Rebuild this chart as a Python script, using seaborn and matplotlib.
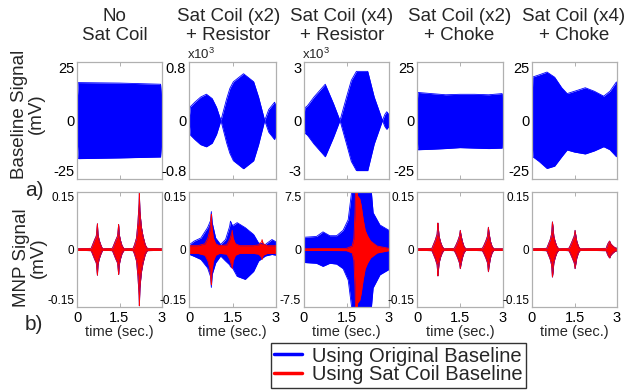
import numpy as np
import pandas as pd
import matplotlib
matplotlib.use("Agg")
import matplotlib.pyplot as plt
import seaborn as sns
from matplotlib.lines import Line2D

# ---------------- data (envelopes) ----------------
titles = ["No\nSat Coil", "Sat Coil (x2)\n+ Resistor", "Sat Coil (x4)\n+ Resistor",
          "Sat Coil (x2)\n+ Choke", "Sat Coil (x4)\n+ Choke"]
legend_labels = ["Using Original Baseline", "Using Sat Coil Baseline"]

# top row: baseline signal envelopes (upper / lower)
top1_t = [0.0, 0.05, 1.5, 2.95, 3.0]
top1_up = [8, 16.2, 16.0, 15.5, 8]
top1_lo = [-8, -16.3, -16.0, -15.6, -8]

top2_t = [0.0, 0.05, 0.2, 0.4, 0.6, 0.8, 0.95, 1.1, 1.3, 1.41, 1.53, 1.88, 2.23, 2.4, 2.61, 2.75, 2.95, 3.0]
top2_up = [0.02, 0.19, 0.25, 0.32, 0.36, 0.30, 0.18, 0.0, 0.30, 0.44, 0.53, 0.64, 0.53, 0.32, 0.0, 0.15, 0.25, 0.2]
top2_lo = [-0.02, -0.2, -0.26, -0.33, -0.36, -0.31, -0.19, 0.0, -0.31, -0.45, -0.55, -0.66, -0.55, -0.33, 0.0, -0.16, -0.26, -0.2]

top3_t = [0.0, 0.03, 0.12, 0.35, 0.75, 1.04, 1.27, 1.5, 1.67, 1.85, 2.25, 2.48, 2.77, 2.85, 2.92, 3.0]
top3_up = [0.2, 0.65, 0.75, 1.2, 1.86, 0.87, 0.0, 1.2, 2.06, 2.52, 2.52, 1.2, 0.0, 0.3, 0.45, 0.3]
top3_lo = [-0.2, -0.65, -0.75, -1.2, -1.86, -0.87, 0.0, -1.2, -2.1, -2.57, -2.57, -1.2, 0.0, -0.3, -0.45, -0.3]

top4_t = [0.0, 0.03, 0.5, 1.0, 1.5, 2.0, 2.5, 2.97, 3.0]
top4_up = [6, 12.0, 11.5, 11.0, 11.2, 11.2, 11.0, 11.5, 6]
top4_lo = [-6, -12.5, -12.3, -12.0, -11.6, -11.8, -12.0, -11.8, -6]

top5_t = [0.0, 0.03, 0.25, 0.53, 0.8, 1.05, 1.24, 1.5, 1.88, 2.2, 2.53, 2.75, 2.98, 3.0]
top5_up = [8, 18.6, 19.5, 20.7, 18.5, 14, 11.5, 12.5, 14, 12.5, 10.4, 12.5, 16.5, 8]
top5_lo = [-8, -15.5, -17.5, -20.5, -19.5, -15.5, -12.6, -13.5, -14.3, -13, -11.2, -12.5, -15.5, -8]

# bottom row: MNP signal, red = sat coil baseline (symmetric amplitude)
bot1_t = [0.0, 0.5, 0.55, 0.62, 0.68, 0.71, 0.72, 0.74, 0.78, 0.84, 0.9,
          1.25, 1.3, 1.37, 1.43, 1.46, 1.47, 1.49, 1.53, 1.59, 1.66,
          1.98, 2.03, 2.1, 2.15, 2.19, 2.2, 2.22, 2.27, 2.33, 2.41, 2.48, 3.0]
bot1_amp = [0.002, 0.003, 0.012, 0.025, 0.035, 0.06, 0.067, 0.04, 0.025, 0.012, 0.002,
            0.003, 0.012, 0.025, 0.035, 0.058, 0.065, 0.04, 0.025, 0.01, 0.002,
            0.003, 0.012, 0.03, 0.07, 0.12, 0.147, 0.1, 0.06, 0.035, 0.012, 0.003, 0.002]

bot2_red_t = [0.0, 0.3, 0.55, 0.65, 0.72, 0.76, 0.77, 0.79, 0.84, 0.92, 1.05, 1.3, 1.4, 1.47,
              1.49, 1.52, 1.6, 1.75, 2.2, 2.4, 2.5, 2.52, 2.56, 2.7, 3.0]
bot2_red_amp = [0.01, 0.01, 0.015, 0.03, 0.05, 0.085, 0.092, 0.06, 0.03, 0.015, 0.01, 0.012, 0.025,
                0.042, 0.05, 0.03, 0.015, 0.01, 0.01, 0.012, 0.02, 0.026, 0.015, 0.01, 0.01]
bot2_blue_t = [0.0, 0.02, 0.18, 0.41, 0.64, 0.74, 0.77, 0.8, 0.92, 1.09, 1.26, 1.40, 1.43, 1.5,
               1.66, 1.94, 2.23, 2.4, 2.63, 2.86, 3.0]
bot2_blue_up = [0.005, 0.013, 0.022, 0.03, 0.057, 0.075, 0.099, 0.07, 0.03, 0.013, 0.026, 0.06,
                0.074, 0.062, 0.07, 0.057, 0.039, 0.017, 0.013, 0.026, 0.02]
bot2_blue_lo = [-0.005, -0.013, -0.018, -0.026, -0.048, -0.07, -0.099, -0.065, -0.035, -0.017,
                -0.03, -0.04, -0.045, -0.048, -0.07, -0.078, -0.057, -0.03, -0.017, -0.013, -0.015]

bot3_blue_t = [0.0, 0.02, 0.44, 0.67, 0.91, 1.15, 1.38, 1.56, 1.68, 1.75, 2.32, 2.44, 2.68, 3.0]
bot3_blue_up = [0.5, 1.6, 1.7, 2.3, 1.8, 1.8, 2.5, 3.9, 7.5, 10, 10, 4.8, 3.2, 2.5]
bot3_blue_lo = [-0.5, -1.7, -1.8, -2.2, -1.8, -1.9, -2.5, -4.0, -7.5, -10, -10, -5.0, -3.3, -2.6]
bot3_red_t = [0.0, 1.5, 1.70, 1.76, 1.80, 1.83, 1.86, 1.89, 1.97, 2.02, 2.09, 2.16, 2.24, 2.35, 2.58, 3.0]
bot3_red_amp = [0.1, 0.15, 0.45, 1.4, 4.8, 10, 10, 7.0, 6.6, 5.7, 3.9, 2.5, 1.8, 1.1, 0.45, 0.15]

bot4_t = [0.0, 0.52, 0.57, 0.64, 0.70, 0.73, 0.74, 0.77, 0.82, 0.88, 0.94,
          1.30, 1.35, 1.42, 1.48, 1.51, 1.53, 1.58, 1.64, 1.70,
          2.28, 2.33, 2.40, 2.46, 2.49, 2.51, 2.56, 2.62, 2.68, 3.0]
bot4_amp = [0.002, 0.003, 0.012, 0.025, 0.04, 0.069, 0.06, 0.035, 0.02, 0.008, 0.002,
            0.003, 0.01, 0.022, 0.035, 0.05, 0.04, 0.022, 0.008, 0.002,
            0.003, 0.01, 0.022, 0.035, 0.058, 0.045, 0.022, 0.008, 0.002, 0.002]

bot5_t = [0.0, 0.52, 0.57, 0.64, 0.69, 0.72, 0.74, 0.77, 0.82, 0.88, 0.94,
          1.30, 1.35, 1.42, 1.49, 1.52, 1.54, 1.58, 1.64, 1.70,
          2.62, 2.66, 2.70, 2.74, 2.78, 2.84, 2.92, 3.0]
bot5_amp = [0.002, 0.003, 0.012, 0.025, 0.04, 0.072, 0.06, 0.035, 0.02, 0.008, 0.002,
            0.003, 0.01, 0.022, 0.035, 0.050, 0.04, 0.022, 0.008, 0.002,
            0.003, 0.012, 0.018, 0.022, 0.015, 0.01, 0.005, 0.003]

top_ylims = [25, 0.8, 3, 25, 25]
top_yticklabels = [["-25", "0", "25"], ["-0.8", "0", "0.8"], ["-3", "0", "3"],
                   ["-25", "0", "25"], ["-25", "0", "25"]]
bot_ylims = [0.15, 0.15, 7.5, 0.15, 0.15]
bot_yticklabels = [["-0.15", "0", "0.15"], ["-0.15", "0", "0.15"], ["-7.5", "0", "7.5"],
                   ["-0.15", "0", "0.15"], ["-0.15", "0", "0.15"]]
xticks = [0, 1.5, 3]
xticklabels = ["0", "1.5", "3"]

# ---------------- style ----------------
sns.set_theme(style="white")
plt.rcParams['font.family'] = ['Liberation Sans', 'DejaVu Sans']
plt.rcParams['mathtext.fontset'] = 'custom'
plt.rcParams['mathtext.rm'] = 'Liberation Sans'
plt.rcParams['mathtext.it'] = 'Liberation Sans'

BLUE = "#0000ff"
RED = "#ff0000"
SPINE = "#b0b0b0"

W, H = 627, 390
fig = plt.figure(figsize=(W / 100, H / 100), dpi=100)


def rect(l, t, r, b):
    return [l / W, 1 - b / H, (r - l) / W, (b - t) / H]


cols = [(77, 162), (189, 276), (304, 389), (417, 503), (532, 617)]
top_y = (62, 179)
bot_y = (192, 307)


def env(ax, t, up, lo, color):
    df = pd.DataFrame({"t": t, "up": up, "lo": lo})
    ax.fill_between(df["t"], df["lo"], df["up"], color=color, lw=0)
    sns.lineplot(data=df, x="t", y="up", color=color, lw=0.6, ax=ax, estimator=None, sort=False)
    sns.lineplot(data=df, x="t", y="lo", color=color, lw=0.6, ax=ax, estimator=None, sort=False)


def style(ax, ylim, ylabels, bottom, yfs):
    ax.set_xlim(0, 3)
    ax.set_ylim(-ylim, ylim)
    ax.set_yticks([-ylim, 0, ylim])
    ax.set_yticklabels(ylabels, fontsize=yfs)
    labs = ax.get_yticklabels()
    labs[0].set_va("bottom")
    labs[-1].set_va("top")
    ax.set_xticks(xticks)
    if bottom:
        ax.set_xticklabels(xticklabels, fontsize=10.5)
        ax.set_xlabel("time (sec.)", fontsize=10.5, labelpad=0)
    else:
        ax.set_xticklabels([])
        ax.set_xlabel("")
    ax.set_ylabel("")
    for s in ax.spines.values():
        s.set_color(SPINE)
        s.set_linewidth(0.9)
    ax.tick_params(direction="in", length=3, width=0.7, color=SPINE, top=True, right=True,
                   left=True, bottom=True, labelcolor="black")
    ax.tick_params(axis="y", pad=2)
    ax.tick_params(axis="x", pad=3)


top_data = [(top1_t, top1_up, top1_lo), (top2_t, top2_up, top2_lo), (top3_t, top3_up, top3_lo),
            (top4_t, top4_up, top4_lo), (top5_t, top5_up, top5_lo)]

for i, (l, r) in enumerate(cols):
    ax = fig.add_axes(rect(l, top_y[0], r, top_y[1]))
    t, up, lo = top_data[i]
    env(ax, t, up, lo, BLUE)
    style(ax, top_ylims[i], top_yticklabels[i], False, 10.5)

bot_data = [
    ((bot1_t, bot1_amp, [-a for a in bot1_amp]), (bot1_t, bot1_amp, [-a for a in bot1_amp])),
    ((bot2_blue_t, bot2_blue_up, bot2_blue_lo), (bot2_red_t, bot2_red_amp, [-a for a in bot2_red_amp])),
    ((bot3_blue_t, bot3_blue_up, bot3_blue_lo), (bot3_red_t, bot3_red_amp, [-a for a in bot3_red_amp])),
    ((bot4_t, bot4_amp, [-a for a in bot4_amp]), (bot4_t, bot4_amp, [-a for a in bot4_amp])),
    ((bot5_t, bot5_amp, [-a for a in bot5_amp]), (bot5_t, bot5_amp, [-a for a in bot5_amp])),
]

for i, (l, r) in enumerate(cols):
    ax = fig.add_axes(rect(l, bot_y[0], r, bot_y[1]))
    (bt, bu, bl), (rt, ru, rl) = bot_data[i]
    env(ax, bt, bu, bl, BLUE)
    env(ax, rt, ru, rl, RED)
    sns.lineplot(x=[0, 3], y=[0, 0], color=RED, lw=1.1, ax=ax)
    style(ax, bot_ylims[i], bot_yticklabels[i], True, 8.5 if i != 2 else 9)

# column titles
title_x = [114.5, 228.5, 342, 459.5, 574]
for tx, tt in zip(title_x, titles):
    fig.text(tx / W, 1 - 8 / H, tt, ha="center", va="top", fontsize=13.5, linespacing=1.15)

# x10^3 multipliers
for l in (cols[1][0], cols[2][0]):
    fig.text((l - 2) / W, 1 - 59 / H, r"x10$^{3}$", ha="left", va="baseline", fontsize=9.5)

# row labels
fig.text(28 / W, 1 - 114 / H, "Baseline Signal\n(mV)", rotation=90, ha="center", va="center",
         fontsize=13.5, linespacing=1.05)
fig.text(30 / W, 1 - 258 / H, "MNP Signal\n(mV)", rotation=90, ha="center", va="center",
         fontsize=13.5, linespacing=1.05)
fig.text(34 / W, 1 - 191 / H, "a)", ha="center", va="center", fontsize=15)
fig.text(34 / W, 1 - 325 / H, "b)", ha="center", va="center", fontsize=15)

# legend
handles = [Line2D([0], [0], color=BLUE, lw=2.5), Line2D([0], [0], color=RED, lw=2.5)]
leg = fig.legend(handles, legend_labels, loc="center", bbox_to_anchor=(398.5 / W, 1 - 365.5 / H),
                 frameon=True, fancybox=False, edgecolor="black", fontsize=14.5, handlelength=1.4,
                 borderpad=0.15, labelspacing=0.0, handletextpad=0.5, borderaxespad=0)
leg.get_frame().set_linewidth(1.0)

fig.savefig("out.png", dpi=100)
